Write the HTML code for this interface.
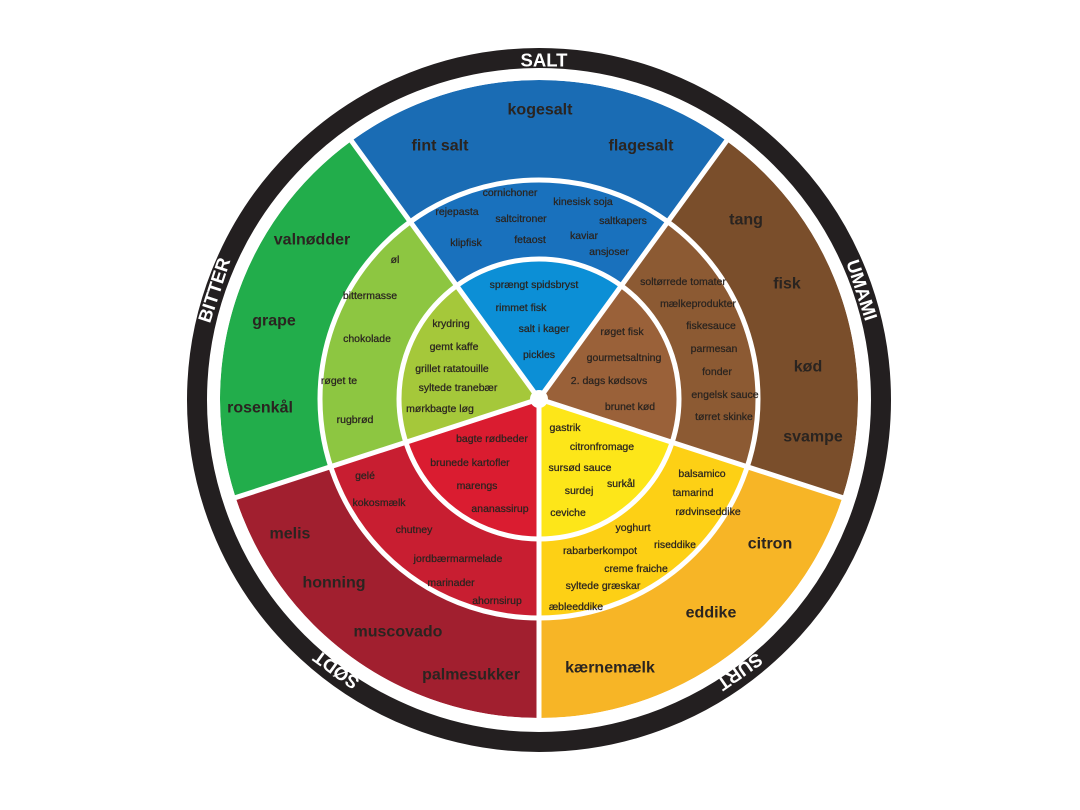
<!DOCTYPE html>
<html><head><meta charset="utf-8"><style>
html,body{margin:0;padding:0;background:#fff;}
svg{display:block;}
text{font-family:"Liberation Sans",sans-serif;text-anchor:middle;dominant-baseline:central;}
.o{font-size:16px;font-weight:bold;fill:#2a2420;}
.s{font-size:10.5px;fill:#2a2420;stroke:#2a2420;stroke-width:0.25px;}
.r{font-size:18.5px;font-weight:bold;fill:#fff;}
</style></head><body>
<svg width="1080" height="810" viewBox="0 0 1080 810" xmlns="http://www.w3.org/2000/svg">
<rect width="1080" height="810" fill="#fff"/>
<circle cx="539" cy="400" r="342" fill="none" stroke="#231f20" stroke-width="20"/>
<g transform="translate(539,399)">
<path d="M0,0 L-187.5,-258.1 A319,319 0 0 1 187.5,-258.1 Z" fill="#1a6cb4"/>
<path d="M0,0 L187.5,-258.1 A319,319 0 0 1 303.4,98.6 Z" fill="#7a4e2b"/>
<path d="M0,0 L303.4,98.6 A319,319 0 0 1 0,319 Z" fill="#f7b526"/>
<path d="M0,0 L0,319 A319,319 0 0 1 -303.4,98.6 Z" fill="#a11f2f"/>
<path d="M0,0 L-303.4,98.6 A319,319 0 0 1 -187.5,-258.1 Z" fill="#22ad4b"/>
<path d="M0,0 L-128.7,-177.2 A219,219 0 0 1 128.7,-177.2 Z" fill="#1971bd"/>
<path d="M0,0 L128.7,-177.2 A219,219 0 0 1 208.3,67.7 Z" fill="#8c5a33"/>
<path d="M0,0 L208.3,67.7 A219,219 0 0 1 0,219 Z" fill="#fdd015"/>
<path d="M0,0 L0,219 A219,219 0 0 1 -208.3,67.7 Z" fill="#c81e31"/>
<path d="M0,0 L-208.3,67.7 A219,219 0 0 1 -128.7,-177.2 Z" fill="#8dc641"/>
<path d="M0,0 L-82.3,-113.3 A140,140 0 0 1 82.3,-113.3 Z" fill="#0c8fd6"/>
<path d="M0,0 L82.3,-113.3 A140,140 0 0 1 133.2,43.3 Z" fill="#9a6139"/>
<path d="M0,0 L133.2,43.3 A140,140 0 0 1 0,140 Z" fill="#fde619"/>
<path d="M0,0 L0,140 A140,140 0 0 1 -133.2,43.3 Z" fill="#da1c30"/>
<path d="M0,0 L-133.2,43.3 A140,140 0 0 1 -82.3,-113.3 Z" fill="#a5c83a"/>
<circle r="219" fill="none" stroke="#fff" stroke-width="5"/>
<circle r="140" fill="none" stroke="#fff" stroke-width="5"/>
<g stroke="#fff" stroke-width="5">
<line x1="0" y1="0" x2="-190" y2="-261.5"/>
<line x1="0" y1="0" x2="190" y2="-261.5"/>
<line x1="0" y1="0" x2="307" y2="99.8"/>
<line x1="0" y1="0" x2="0" y2="323"/>
<line x1="0" y1="0" x2="-307" y2="99.8"/>
</g>
<circle r="9" fill="#fff"/>
<circle r="321" fill="none" stroke="#fff" stroke-width="4"/>
</g>

<text class="r" x="544" y="60">SALT</text>
<text class="r" x="862" y="290" transform="rotate(72 862 290)">UMAMI</text>
<text class="r" x="214" y="290" transform="rotate(-72 214 290)">BITTER</text>
<text class="r" x="336" y="670" transform="rotate(216 336 670)">SØDT</text>
<text class="r" x="740" y="672" transform="rotate(145 740 672)">SURT</text>

<text class="o" x="540" y="110">kogesalt</text>
<text class="o" x="440" y="146">fint salt</text>
<text class="o" x="641" y="146">flagesalt</text>
<text class="s" x="510" y="193">cornichoner</text>
<text class="s" x="583" y="202">kinesisk soja</text>
<text class="s" x="457" y="212">rejepasta</text>
<text class="s" x="521" y="219">saltcitroner</text>
<text class="s" x="623" y="221">saltkapers</text>
<text class="s" x="466" y="243">klipfisk</text>
<text class="s" x="530" y="240">fetaost</text>
<text class="s" x="584" y="236">kaviar</text>
<text class="s" x="609" y="252">ansjoser</text>
<text class="s" x="534" y="285">sprængt spidsbryst</text>
<text class="s" x="521" y="308">rimmet fisk</text>
<text class="s" x="544" y="329">salt i kager</text>
<text class="s" x="539" y="355">pickles</text>
<text class="o" x="746" y="220">tang</text>
<text class="o" x="787" y="284">fisk</text>
<text class="o" x="808" y="367">kød</text>
<text class="o" x="813" y="437">svampe</text>
<text class="s" x="683" y="282">soltørrede tomater</text>
<text class="s" x="698" y="304">mælkeprodukter</text>
<text class="s" x="711" y="326">fiskesauce</text>
<text class="s" x="714" y="349">parmesan</text>
<text class="s" x="717" y="372">fonder</text>
<text class="s" x="725" y="395">engelsk sauce</text>
<text class="s" x="724" y="417">tørret skinke</text>
<text class="s" x="622" y="332">røget fisk</text>
<text class="s" x="624" y="358">gourmetsaltning</text>
<text class="s" x="609" y="381">2. dags kødsovs</text>
<text class="s" x="630" y="407">brunet kød</text>
<text class="s" x="565" y="428">gastrik</text>
<text class="s" x="602" y="447">citronfromage</text>
<text class="s" x="580" y="468">sursød sauce</text>
<text class="s" x="621" y="484">surkål</text>
<text class="s" x="579" y="491">surdej</text>
<text class="s" x="568" y="513">ceviche</text>
<text class="s" x="702" y="474">balsamico</text>
<text class="s" x="693" y="493">tamarind</text>
<text class="s" x="708" y="512">rødvinseddike</text>
<text class="s" x="633" y="528">yoghurt</text>
<text class="s" x="675" y="545">riseddike</text>
<text class="s" x="600" y="551">rabarberkompot</text>
<text class="s" x="636" y="569">creme fraiche</text>
<text class="s" x="603" y="586">syltede græskar</text>
<text class="s" x="576" y="607">æbleeddike</text>
<text class="o" x="770" y="544">citron</text>
<text class="o" x="711" y="613">eddike</text>
<text class="o" x="610" y="668">kærnemælk</text>
<text class="s" x="492" y="439">bagte rødbeder</text>
<text class="s" x="470" y="463">brunede kartofler</text>
<text class="s" x="477" y="486">marengs</text>
<text class="s" x="500" y="509">ananassirup</text>
<text class="s" x="365" y="476">gelé</text>
<text class="s" x="379" y="503">kokosmælk</text>
<text class="s" x="414" y="530">chutney</text>
<text class="s" x="458" y="559">jordbærmarmelade</text>
<text class="s" x="451" y="583">marinader</text>
<text class="s" x="497" y="601">ahornsirup</text>
<text class="o" x="290" y="534">melis</text>
<text class="o" x="334" y="583">honning</text>
<text class="o" x="398" y="632">muscovado</text>
<text class="o" x="471" y="675">palmesukker</text>
<text class="o" x="312" y="240">valnødder</text>
<text class="o" x="274" y="321">grape</text>
<text class="o" x="260" y="408">rosenkål</text>
<text class="s" x="395" y="260">øl</text>
<text class="s" x="370" y="296">bittermasse</text>
<text class="s" x="367" y="339">chokolade</text>
<text class="s" x="339" y="381">røget te</text>
<text class="s" x="355" y="420">rugbrød</text>
<text class="s" x="451" y="324">krydring</text>
<text class="s" x="454" y="347">gemt kaffe</text>
<text class="s" x="452" y="369">grillet ratatouille</text>
<text class="s" x="458" y="388">syltede tranebær</text>
<text class="s" x="440" y="409">mørkbagte løg</text>
</svg>
</body></html>
